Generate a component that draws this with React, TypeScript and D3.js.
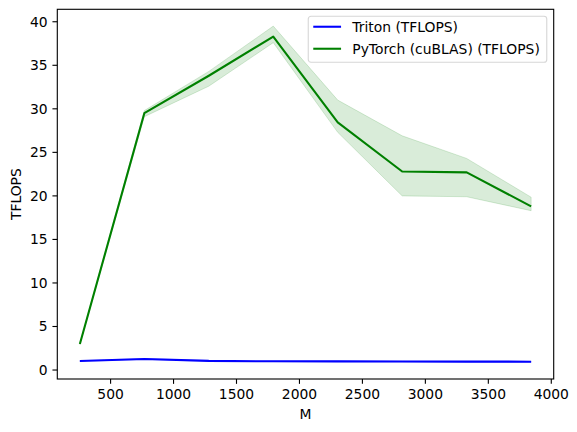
import React from 'react';
import * as d3 from 'd3';

// matrix size M and measured throughput
const M = [256, 768, 1280, 1792, 2304, 2816, 3328, 3840];
const tritonTflops = [1.03, 1.27, 1.05, 1.0, 0.99, 0.98, 0.97, 0.96];
const tritonMin = [1.0, 1.22, 1.01, 0.97, 0.95, 0.93, 0.92, 0.9];
const tritonMax = [1.06, 1.32, 1.08, 1.03, 1.02, 1.01, 1.0, 0.99];
const torchTflops = [3.0, 29.5, 33.8, 38.3, 28.45, 22.8, 22.7, 18.8];
const torchMin = [2.95, 29.1, 32.6, 37.6, 27.3, 20.0, 19.9, 18.3];
const torchMax = [3.05, 29.8, 34.3, 39.5, 31.0, 26.9, 24.3, 19.85];

const xTicks = [500, 1000, 1500, 2000, 2500, 3000, 3500, 4000];
const yTicks = [0, 5, 10, 15, 20, 25, 30, 35, 40];

const series = [
  { name: 'Triton (TFLOPS)', color: '#0000ff', y: tritonTflops, lo: tritonMin, hi: tritonMax },
  { name: 'PyTorch (cuBLAS) (TFLOPS)', color: '#008000', y: torchTflops, lo: torchMin, hi: torchMax },
];

const W = 577;
const H = 432;
const margin = { top: 9.3, right: 23.3, bottom: 53, left: 57.3 };
const FONT = '"DejaVu Sans", sans-serif';
const FS = 13.89;

function pad([a, b]: [number, number]): [number, number] {
  const m = (b - a) * 0.05;
  return [a - m, b + m];
}

export default function App() {
  const width = W - margin.left - margin.right;
  const height = H - margin.top - margin.bottom;

  const x = d3.scaleLinear()
    .domain(pad(d3.extent(M) as [number, number]))
    .range([0, width]);

  const allY = [...tritonMin, ...tritonMax, ...torchMin, ...torchMax];
  const y = d3.scaleLinear()
    .domain(pad([d3.min(allY)!, d3.max(allY)!]))
    .range([height, 0]);

  const tickLen = 4.86;

  return (
    <svg
      width={W}
      height={H}
      style={{ position: 'absolute', left: 0, top: 0, background: '#fff' }}
      fontFamily={FONT}
      fontSize={FS}
    >
      <g transform={`translate(${margin.left},${margin.top})`}>
        {series.map((s) => {
          const area = d3.area<number>()
            .x((_, i) => x(M[i]))
            .y0((_, i) => y(s.lo[i]))
            .y1((_, i) => y(s.hi[i]));
          return (
            <path
              key={`band-${s.name}`}
              d={area(s.y) ?? ''}
              fill={s.color}
              fillOpacity={0.15}
              stroke={s.color}
              strokeOpacity={0.15}
              strokeWidth={1}
            />
          );
        })}
        {series.map((s) => {
          const line = d3.line<number>()
            .x((_, i) => x(M[i]))
            .y((d) => y(d));
          return (
            <path
              key={`line-${s.name}`}
              d={line(s.y) ?? ''}
              fill="none"
              stroke={s.color}
              strokeWidth={2.08}
              strokeLinejoin="round"
            />
          );
        })}

        {/* spines */}
        <rect x={0} y={0} width={width} height={height} fill="none" stroke="#000" strokeWidth={1.11} />

        {/* x axis */}
        {xTicks.map((t) => (
          <g key={`xt-${t}`} transform={`translate(${x(t)},${height})`}>
            <line y2={tickLen} stroke="#000" strokeWidth={1.11} />
            <text y={20.2} textAnchor="middle" fill="#000">{t}</text>
          </g>
        ))}
        <text x={width / 2} y={height + 40} textAnchor="middle" fill="#000">M</text>

        {/* y axis */}
        {yTicks.map((t) => (
          <g key={`yt-${t}`} transform={`translate(0,${y(t)})`}>
            <line x2={-tickLen} stroke="#000" strokeWidth={1.11} />
            <text x={-9.7} y={5} textAnchor="end" fill="#000">{t}</text>
          </g>
        ))}
        <text
          transform={`translate(${20.5 - margin.left},${height / 2}) rotate(-90)`}
          textAnchor="middle"
          fill="#000"
        >
          TFLOPS
        </text>

        {/* legend */}
        <g transform={`translate(${width - 6.94 - 238.5},6.94)`}>
          <rect width={238.5} height={46} rx={2.8} fill="#fff" fillOpacity={0.8} stroke="#cccccc" strokeOpacity={0.8} strokeWidth={1.11} />
          {series.map((s, i) => (
            <g key={`lg-${s.name}`} transform={`translate(5,${10.5 + i * 22})`}>
              <line x1={0} x2={27.8} stroke={s.color} strokeWidth={2.08} />
              <text x={39} y={5.2} fill="#000">{s.name}</text>
            </g>
          ))}
        </g>
      </g>
    </svg>
  );
}
